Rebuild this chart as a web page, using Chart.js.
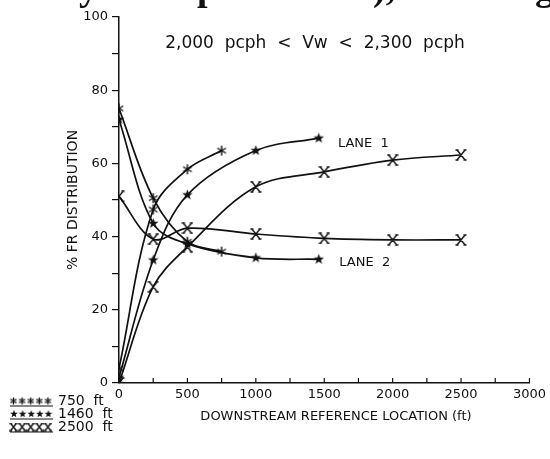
<!DOCTYPE html>
<html>
<head>
<meta charset="utf-8">
<script src="https://cdn.jsdelivr.net/npm/chart.js@4"></script>
<style>
  html, body { margin: 0; padding: 0; background: #fff; }
  #wrap { width: 550px; height: 459px; }
</style>
</head>
<body>
<div id="wrap"><canvas id="frChart" width="550" height="459"></canvas></div>
<script>
// distances downstream (ft) for each weaving length
const distances750 = [0, 250, 500, 750];
const distances1460 = [0, 250, 500, 1000, 1460];
const distances2500 = [0, 250, 500, 1000, 1500, 2000, 2500];

// % FR distribution, lane 1 and lane 2
const lane1_750 = [4, 47.4, 58.4, 63.5];
const lane2_750 = [75, 50.5, 38.6, 35.9];
const lane1_1460 = [1.5, 33.6, 51.4, 63.5, 66.9];
const lane2_1460 = [72, 43.6, 38, 34.2, 33.8];
const lane1_2500 = [0, 26.3, 37.2, 53.6, 57.7, 60.9, 62.3];
const lane2_2500 = [51, 39.3, 42.3, 40.7, 39.5, 39.1, 39.1];

const legendLabels = ["750  ft", "1460  ft", "2500  ft"];
const subtitle = "2,000  pcph  <  Vw  <  2,300  pcph";
const xTitle = "DOWNSTREAM REFERENCE LOCATION (ft)";
const yTitle = "% FR DISTRIBUTION";

const ink = "#111";
const font = '"DejaVu Sans", sans-serif';

function makeMarker(kind, size) {
  const c = document.createElement("canvas");
  c.width = size; c.height = size;
  const g = c.getContext("2d");
  g.strokeStyle = ink; g.fillStyle = ink; g.lineWidth = 1.4;
  const cx = size / 2, cy = size / 2, r = size / 2 - 1;
  g.beginPath();
  if (kind === "asterisk") {
    for (let k = 0; k < 3; k++) {
      const a = Math.PI / 2 + k * Math.PI / 3;
      g.moveTo(cx + r * Math.cos(a), cy + r * Math.sin(a));
      g.lineTo(cx - r * Math.cos(a), cy - r * Math.sin(a));
    }
    g.stroke();
  } else if (kind === "star") {
    for (let k = 0; k < 10; k++) {
      const a = -Math.PI / 2 + k * Math.PI / 5;
      const rr = k % 2 ? r * 0.42 : r;
      g.lineTo(cx + rr * Math.cos(a), cy + rr * Math.sin(a));
    }
    g.closePath();
    g.fill();
  } else {
    const w = r * 0.8;
    g.moveTo(cx - w, cy - r); g.lineTo(cx + w, cy + r);
    g.moveTo(cx + w, cy - r); g.lineTo(cx - w, cy + r);
    g.moveTo(cx - w - 1.5, cy - r); g.lineTo(cx - w + 1.5, cy - r);
    g.moveTo(cx + w - 1.5, cy - r); g.lineTo(cx + w + 1.5, cy - r);
    g.moveTo(cx - w - 1.5, cy + r); g.lineTo(cx - w + 1.5, cy + r);
    g.moveTo(cx + w - 1.5, cy + r); g.lineTo(cx + w + 1.5, cy + r);
    g.stroke();
  }
  return c;
}

const markers = [makeMarker("asterisk", 12), makeMarker("star", 13), makeMarker("x", 12)];
const legendMarks = [makeMarker("asterisk", 9), makeMarker("star", 10), makeMarker("x", 9)];

function series(xs, ys, marker) {
  return {
    data: xs.map((x, i) => ({ x: x, y: ys[i] })),
    borderColor: ink,
    borderWidth: 1.7,
    pointStyle: marker,
    pointRadius: 6,
    tension: 0.35,
    fill: false
  };
}

const extras = {
  id: "extras",
  afterDraw(chart) {
    const ctx = chart.ctx;
    const xs = chart.scales.x, ys = chart.scales.y;
    const area = chart.chartArea;
    ctx.save();
    ctx.fillStyle = ink;
    ctx.strokeStyle = ink;

    // inward ticks on the x axis
    ctx.lineWidth = 1.2;
    xs.ticks.forEach(t => {
      const px = xs.getPixelForValue(t.value);
      ctx.beginPath();
      ctx.moveTo(px, area.bottom);
      ctx.lineTo(px, area.bottom - 5);
      ctx.stroke();
    });

    // descenders of the cropped caption above the figure
    ctx.font = 'bold 38px "Liberation Serif", serif';
    ctx.textBaseline = "alphabetic";
    ctx.textAlign = "left";
    ctx.fillText("y", 79, 0);
    ctx.fillText("p", 197, 0);
    ctx.fillText("),", 373, 0);
    ctx.fillText("g", 535, 0);

    // subtitle and lane labels
    ctx.textBaseline = "middle";
    ctx.font = "17px " + font;
    ctx.textAlign = "center";
    ctx.fillText(subtitle, 315, 44);
    ctx.font = "13px " + font;
    ctx.textAlign = "left";
    ctx.fillText("LANE  1", xs.getPixelForValue(1600), ys.getPixelForValue(65.5));
    ctx.fillText("LANE  2", xs.getPixelForValue(1610), ys.getPixelForValue(33));

    // axis titles
    ctx.textAlign = "center";
    ctx.fillText(xTitle, 336, 417);
    ctx.save();
    ctx.font = "14px " + font;
    ctx.translate(73, 200);
    ctx.rotate(-Math.PI / 2);
    ctx.fillText(yTitle, 0, 0);
    ctx.restore();

    // legend, bottom left
    ctx.font = "14px " + font;
    ctx.textAlign = "left";
    legendLabels.forEach((lab, i) => {
      const cy = 401 + i * 13;
      const m = legendMarks[i];
      for (let k = 0; k < 5; k++) {
        ctx.drawImage(m, 9 + k * 8.6, cy - m.height / 2);
      }
      ctx.lineWidth = 1;
      ctx.beginPath();
      ctx.moveTo(10, cy + 5);
      ctx.lineTo(53, cy + 5);
      ctx.stroke();
      ctx.fillText(lab, 58, cy);
    });
    ctx.restore();
  }
};

new Chart(document.getElementById("frChart"), {
  type: "line",
  data: {
    datasets: [
      series(distances750, lane1_750, markers[0]),
      series(distances750, lane2_750, markers[0]),
      series(distances1460, lane1_1460, markers[1]),
      series(distances1460, lane2_1460, markers[1]),
      series(distances2500, lane1_2500, markers[2]),
      series(distances2500, lane2_2500, markers[2])
    ]
  },
  options: {
    responsive: false,
    animation: false,
    layout: { padding: { top: 17, right: 15, left: 0, bottom: 0 } },
    plugins: {
      legend: { display: false },
      tooltip: { enabled: false }
    },
    scales: {
      x: {
        type: "linear",
        min: 0,
        max: 3000,
        afterFit: scale => { scale.height = 76; },
        border: { display: true, color: ink, width: 1.5 },
        grid: { display: true, drawOnChartArea: false, drawTicks: false },
        ticks: {
          stepSize: 250,
          autoSkip: false,
          maxRotation: 0,
          padding: 4,
          color: ink,
          font: { family: font, size: 13 },
          callback: v => (v % 500 === 0 ? v : "")
        }
      },
      y: {
        min: 0,
        max: 100,
        afterFit: scale => { scale.width = 119; },
        border: { display: true, color: ink, width: 1.5 },
        grid: { display: true, drawOnChartArea: false, tickLength: 7, color: ink, lineWidth: 1.2 },
        ticks: {
          stepSize: 10,
          autoSkip: false,
          padding: 4,
          color: ink,
          font: { family: font, size: 13 },
          callback: v => (v % 20 === 0 ? v : "")
        }
      }
    }
  },
  plugins: [extras]
});
</script>
</body>
</html>
